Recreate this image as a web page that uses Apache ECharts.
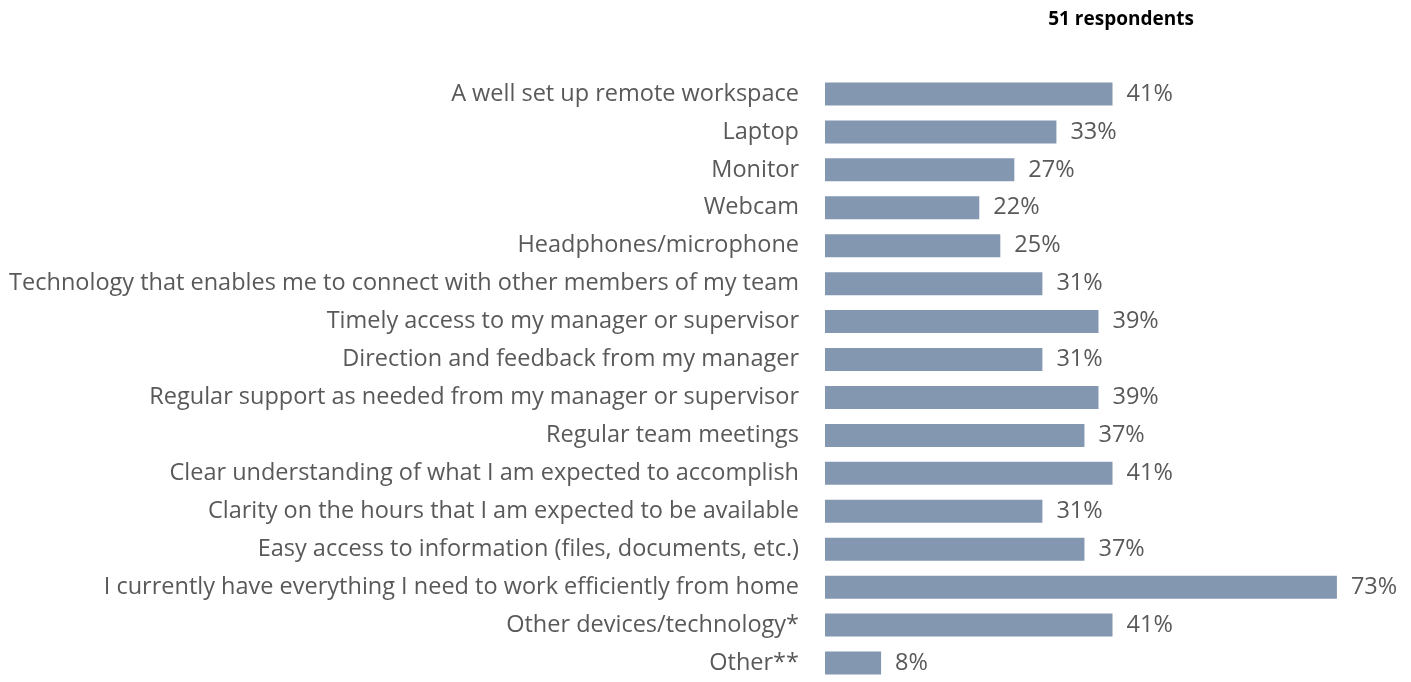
<!DOCTYPE html>
<html><head><meta charset="utf-8">
<script src="https://cdn.jsdelivr.net/npm/echarts@6/dist/echarts.min.js"></script>
<style>html,body{margin:0;padding:0;background:#fff}#c{width:1411px;height:682px}</style>
</head><body><div id="c"></div>
<script>
const categories = [
  "A well set up remote workspace",
  "Laptop",
  "Monitor",
  "Webcam",
  "Headphones/microphone",
  "Technology that enables me to connect with other members of my team",
  "Timely access to my manager or supervisor",
  "Direction and feedback from my manager",
  "Regular support as needed from my manager or supervisor",
  "Regular team meetings",
  "Clear understanding of what I am expected to accomplish",
  "Clarity on the hours that I am expected to be available",
  "Easy access to information (files, documents, etc.)",
  "I currently have everything I need to work efficiently from home",
  "Other devices/technology*",
  "Other**"
];
const values = [41, 33, 27, 22, 25, 31, 39, 31, 39, 37, 41, 31, 37, 73, 41, 8];
const titleText = "51 respondents";

const chart = echarts.init(document.getElementById('c'));
chart.setOption({
  animation: false,
  title: {
    text: titleText, left: 1116, top: 5, textAlign: 'center',
    textStyle: {fontFamily: 'Open Sans', fontWeight: 'bold', fontSize: 19, color: '#000'}
  },
  grid: {left: 825, top: 75, width: 561, height: 613},
  xAxis: {type: 'value', min: 0, max: 80, show: false},
  yAxis: {
    type: 'category', data: categories, inverse: true,
    axisLine: {show: false}, axisTick: {show: false},
    axisLabel: {margin: 26, fontFamily: 'Open Sans', fontSize: 23.5, color: '#595959'}
  },
  series: [{
    type: 'bar', data: values, barWidth: 23,
    itemStyle: {color: '#8497B0'},
    label: {show: true, position: 'right', distance: 14, formatter: '{c}%',
      fontFamily: 'Open Sans', fontSize: 23.5, color: '#595959'}
  }]
});
</script></body></html>
